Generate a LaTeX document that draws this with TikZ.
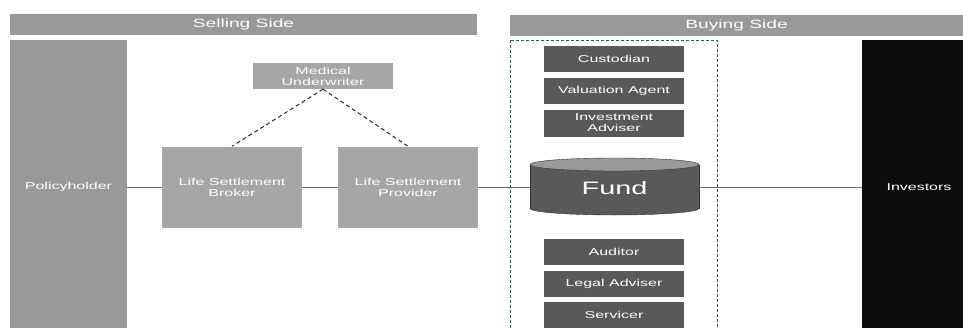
\documentclass[tikz,border=0pt]{standalone}
\usepackage{fontspec}
\setmainfont[FakeStretch=1.6]{Liberation Sans}
\definecolor{midgray}{RGB}{153,153,153}
\definecolor{lightgray}{RGB}{166,166,166}
\definecolor{darkgray}{RGB}{89,89,89}
\definecolor{nearblack}{RGB}{13,13,13}
\definecolor{groupline}{RGB}{40,95,85}
\tikzset{
  box/.style={rectangle,inner sep=0pt,text=white,align=center,
    font=\fontsize{10}{11}\selectfont},
  sidebar/.style={box,fill=midgray,minimum height=21pt,font=\fontsize{12}{14}\selectfont},
  party/.style={box,minimum width=140pt},
  service/.style={box,fill=darkgray,minimum width=140pt,minimum height=26pt},
  link/.style={draw=darkgray!90,line width=0.8pt},
  review/.style={draw=black!85,line width=1pt,dash pattern=on 4pt off 3pt}
}
\begin{document}
\begin{tikzpicture}[x=1pt,y=-1pt]
	\useasboundingbox (0,0) rectangle (963,327);
	\node[sidebar,minimum width=467pt] (sell) at (243.5,24.5) {Selling Side};
	\node[sidebar,minimum width=453pt] (buy) at (736.5,25) {Buying Side};
	\node[box,fill=midgray,minimum width=117pt,minimum height=294pt] (policy) at (68.5,187) {Policyholder};
	\node[party,fill=lightgray,minimum height=26pt] (under) at (323,76) {Medical\\Underwriter};
	\node[party,fill=lightgray,minimum height=81pt] (broker) at (232,187) {Life Settlement\\Broker};
	\node[party,fill=lightgray,minimum height=81pt] (provider) at (408,187) {Life Settlement\\Provider};
	\node[box,fill=nearblack,minimum width=114pt,minimum height=294pt] (investors) at (919,187) {Investors};
	\draw[groupline,semithick,dash pattern=on 3pt off 2pt] (510,40) rectangle (717,340);
	\node[service] (custodian) at (614,59) {Custodian};
	\node[service] (valuation) at (614,91) {Valuation Agent};
	\node[service,minimum height=27pt] (adviser) at (614,123) {Investment\\Adviser};
	\node[service] (auditor) at (614,251.5) {Auditor};
	\node[service] (legal) at (614,283.5) {Legal Adviser};
	\node[service] (servicer) at (614,315) {Servicer};
	\draw[black!80,fill=darkgray] (614.5,208.5) ellipse (84.5 and 6.5);
	\fill[darkgray] (530,164.5) rectangle (699,208.5);
	\draw[black!80] (530,164.5) -- (530,208.5) (699,164.5) -- (699,208.5);
	\draw[black!80,fill=midgray] (614.5,164.5) ellipse (84.5 and 6.5);
	\node[box,minimum width=169pt,minimum height=57pt,font=\fontsize{18}{20}\selectfont] (fund) at (614.5,188) {Fund};
	\draw[link] (policy) -- (broker);
	\draw[link] (broker) -- (provider);
	\draw[link] (provider) -- (fund.west |- provider);
	\draw[link] (fund.east |- investors) -- (investors);
	\draw[review] (under.south) -- (broker.north);
	\draw[review] (under.south) -- (provider.north);
\end{tikzpicture}
\end{document}
